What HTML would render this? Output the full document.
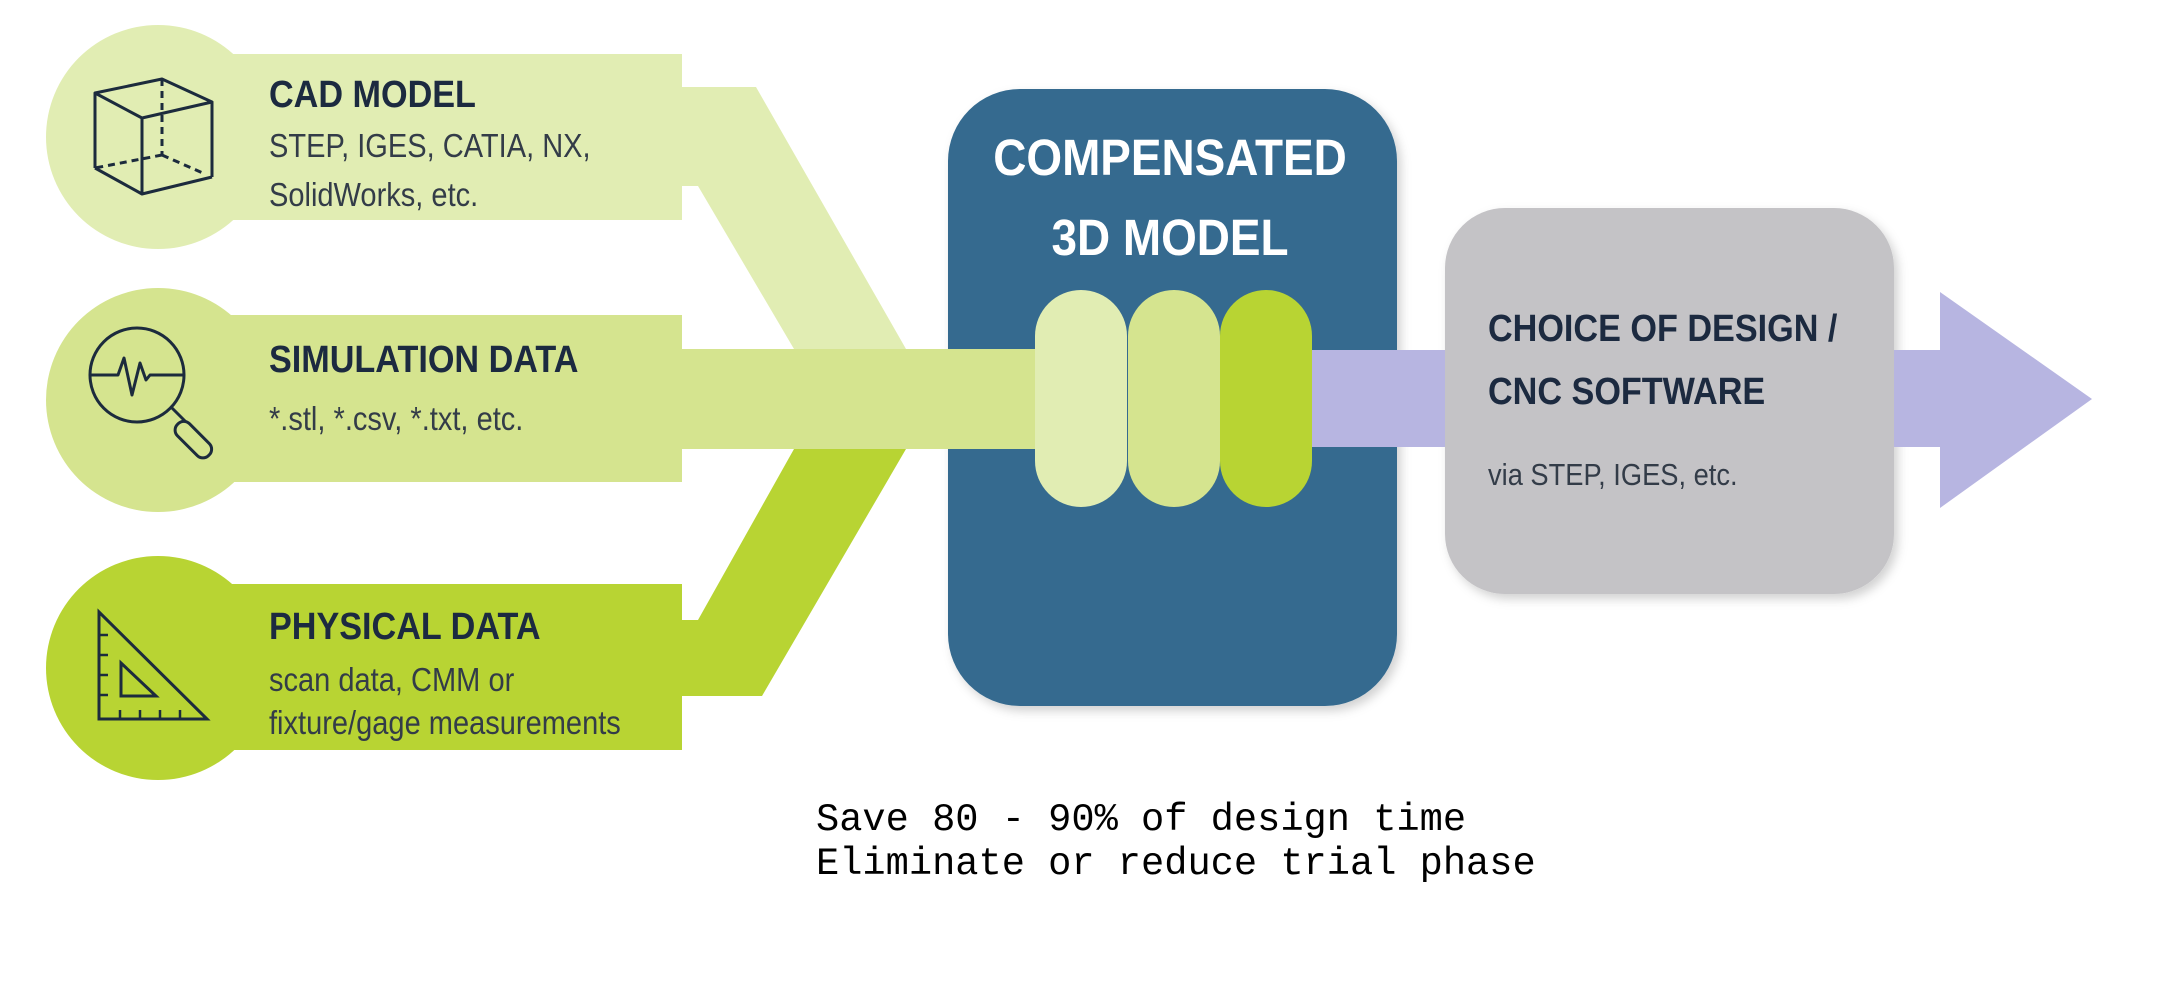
<!DOCTYPE html>
<html><head><meta charset="utf-8"><style>
html,body{margin:0;padding:0;background:#fff;}
svg{display:block;}
.t{font-family:"Liberation Sans",Arial,sans-serif;}
</style></head><body>
<svg width="2157" height="997" viewBox="0 0 2157 997" xmlns="http://www.w3.org/2000/svg">
<defs>
<filter id="sh" x="-10%" y="-10%" width="130%" height="130%"><feDropShadow dx="4" dy="5" stdDeviation="5" flood-color="#000" flood-opacity="0.18"/></filter>
</defs>
<!-- blue box -->
<rect x="948" y="89" width="449" height="617" rx="72" fill="#356b8f" filter="url(#sh)"/>
<!-- gray box -->
<rect x="1445" y="208" width="449" height="386" rx="60" fill="#c4c3c6" filter="url(#sh)"/>
<!-- purple arrow -->
<rect x="1300" y="350" width="145" height="97" fill="#b7b5e1"/>
<polygon points="1894,350 1940,350 1940,292 2092,399 1940,508 1940,447 1894,447" fill="#b7b5e1"/>

<!-- CAD -->
<circle cx="158" cy="137" r="112" fill="#e1edb3"/>
<rect x="225" y="54" width="457" height="166" fill="#e1edb3"/>
<polygon points="682,87 756,87 906,349 794,349 698,186 682,186" fill="#e1edb3"/>
<!-- PHYS -->
<circle cx="158" cy="668" r="112" fill="#b8d433"/>
<rect x="225" y="584" width="457" height="166" fill="#b8d433"/>
<polygon points="682,696 762,696 906,449 794,449 698,620 682,620" fill="#b8d433"/>
<!-- SIM -->
<circle cx="158" cy="400" r="112" fill="#d5e48f"/>
<rect x="225" y="315" width="457" height="167" fill="#d5e48f"/>
<rect x="680" y="349" width="380" height="100" fill="#d5e48f"/>

<!-- pills -->
<rect x="1035" y="290" width="92" height="217" rx="46" fill="#e1edb3"/>
<rect x="1128" y="290" width="92" height="217" rx="46" fill="#d5e48f"/>
<rect x="1220" y="290" width="92" height="217" rx="46" fill="#b8d433"/>

<!-- cube icon -->
<g fill="none" stroke="#1c2b3d" stroke-width="3" stroke-linejoin="round">
<polygon points="95,93 162,79 212,102 142,118"/>
<line x1="95" y1="93" x2="95" y2="168"/><line x1="142" y1="118" x2="142" y2="194"/><line x1="212" y1="102" x2="212" y2="177"/>
<polyline points="95,168 142,194 212,177"/>
<g stroke-dasharray="7,5"><line x1="162" y1="79" x2="162" y2="155"/><line x1="162" y1="155" x2="95" y2="168"/><line x1="162" y1="155" x2="205" y2="174"/></g>
</g>
<!-- magnifier icon -->
<g fill="none" stroke="#1c2b3d" stroke-width="3" stroke-linejoin="round">
<circle cx="137" cy="375" r="47"/>
<polyline points="90,375 118,375 124,358 132,395 140,363 146,380 150,375 184,375"/>
<line x1="172" y1="408" x2="186" y2="422"/>
<rect x="185" y="418" width="17" height="44" rx="8" transform="rotate(-45 193 440)"/>
</g>
<!-- triangle icon -->
<g fill="none" stroke="#1c2b3d" stroke-width="3" stroke-linejoin="miter">
<polygon points="99,612 99,719 207,719"/>
<polygon points="121,663 121,696 156,696"/>
<g stroke-width="2.5"><line x1="99" y1="635" x2="108" y2="635"/><line x1="99" y1="655" x2="108" y2="655"/><line x1="99" y1="675" x2="108" y2="675"/><line x1="99" y1="695" x2="108" y2="695"/>
<line x1="120" y1="719" x2="120" y2="710"/><line x1="140" y1="719" x2="140" y2="710"/><line x1="160" y1="719" x2="160" y2="710"/><line x1="180" y1="719" x2="180" y2="710"/></g>
</g>

<!-- left texts -->
<g class="t" fill="#1c2a40">
<text x="269" y="107" font-size="38" font-weight="bold" transform="translate(269 0) scale(0.9 1) translate(-269 0)">CAD MODEL</text>
<text x="269" y="157" font-size="33" transform="translate(269 0) scale(0.88 1) translate(-269 0)" fill="#333c48">STEP, IGES, CATIA, NX,</text>
<text x="269" y="206" font-size="33" transform="translate(269 0) scale(0.88 1) translate(-269 0)" fill="#333c48">SolidWorks, etc.</text>
<text x="269" y="372" font-size="38" font-weight="bold" transform="translate(269 0) scale(0.9 1) translate(-269 0)">SIMULATION DATA</text>
<text x="269" y="430" font-size="33" transform="translate(269 0) scale(0.88 1) translate(-269 0)" fill="#333c48">*.stl, *.csv, *.txt, etc.</text>
<text x="269" y="639" font-size="38" font-weight="bold" transform="translate(269 0) scale(0.9 1) translate(-269 0)">PHYSICAL DATA</text>
<text x="269" y="691" font-size="33" transform="translate(269 0) scale(0.88 1) translate(-269 0)" fill="#333c48">scan data, CMM or</text>
<text x="269" y="734" font-size="33" transform="translate(269 0) scale(0.88 1) translate(-269 0)" fill="#333c48">fixture/gage measurements</text>
</g>
<!-- blue box text -->
<g class="t" fill="#ffffff" font-weight="bold" text-anchor="middle">
<text x="1170" y="175" font-size="51" transform="translate(1170 0) scale(0.9 1) translate(-1170 0)">COMPENSATED</text>
<text x="1170" y="255" font-size="51" transform="translate(1170 0) scale(0.9 1) translate(-1170 0)">3D MODEL</text>
</g>
<!-- gray box text -->
<g class="t" fill="#1c2a40">
<text x="1488" y="341" font-size="38" font-weight="bold" transform="translate(1488 0) scale(0.9 1) translate(-1488 0)">CHOICE OF DESIGN /</text>
<text x="1488" y="404" font-size="38" font-weight="bold" transform="translate(1488 0) scale(0.9 1) translate(-1488 0)">CNC SOFTWARE</text>
<text x="1488" y="485" font-size="31" fill="#333c48" transform="translate(1488 0) scale(0.88 1) translate(-1488 0)">via STEP, IGES, etc.</text>
</g>
<!-- bottom text -->
<g font-family="'Liberation Mono',monospace" font-size="38.7" fill="#000">
<text x="816" y="830">Save 80 - 90% of design time</text>
<text x="816" y="874">Eliminate or reduce trial phase</text>
</g>
</svg>
</body></html>
